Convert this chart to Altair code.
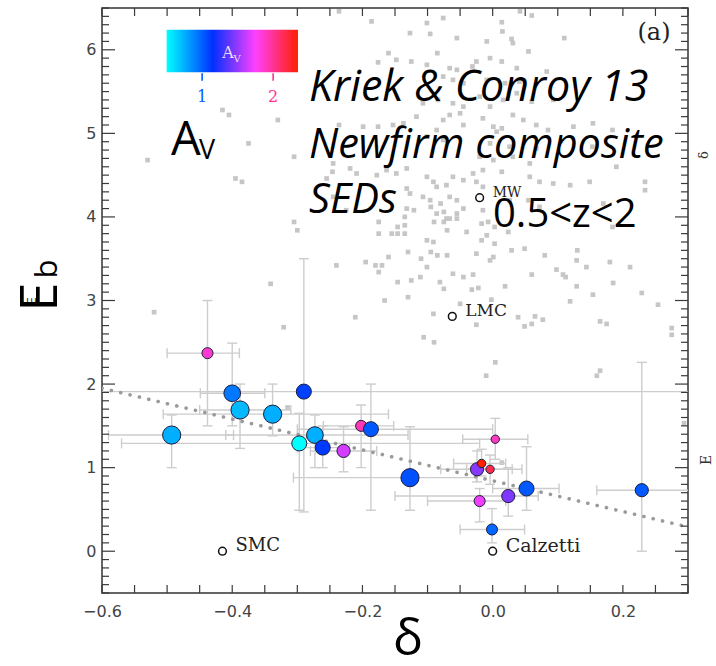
import altair as alt
import pandas as pd
import numpy as np

# ---------------- data ----------------
# composite SEDs (Kriek & Conroy 13)
delta = [-0.493, -0.438, -0.400, -0.388, -0.338, -0.290, -0.273, -0.297, -0.261, -0.229, -0.202,
         -0.187, -0.127, -0.024, -0.017, -0.004, -0.020, -0.001, 0.004, 0.024, 0.052, 0.229]
Eb = [1.39, 2.37, 1.89, 1.69, 1.64, 1.91, 1.39, 1.29, 1.24, 1.20, 1.50,
      1.46, 0.88, 0.98, 1.05, 0.98, 0.60, 0.26, 1.34, 0.66, 0.75, 0.73]
d_lo = [-0.590, -0.500, -0.449, -0.450, -0.506, -0.650, -0.410, -0.570, -0.300, -0.280, -0.260,
        -0.300, -0.306, -0.080, -0.060, -0.040, -0.100, -0.050, -0.046, -0.150, 0.000, 0.160]
d_hi = [-0.398, -0.389, -0.350, -0.310, -0.160, 0.350, -0.130, -0.020, -0.220, -0.178, -0.152,
        0.000, -0.025, 0.030, 0.020, 0.045, 0.020, 0.049, 0.054, 0.070, 0.102, 0.320]
e_lo = [1.00, 1.50, 1.50, 1.23, 1.38, 0.47, 1.00, 0.49, 1.00, 0.95, 1.00,
        0.49, 0.49, 0.83, 0.90, 0.80, 0.35, 0.10, 1.10, 0.42, 0.49, 0.00]
e_hi = [1.63, 3.00, 2.49, 2.00, 2.00, 3.50, 1.63, 1.65, 1.50, 1.49, 1.75,
        2.00, 1.49, 1.20, 1.22, 1.15, 0.75, 0.51, 1.59, 1.00, 1.25, 2.26]
Av = [0.75, 1.86, 0.92, 0.72, 0.75, 1.10, 0.75, 0.50, 1.12, 1.65, 1.92,
      1.02, 1.05, 1.47, 2.35, 2.16, 1.72, 0.98, 1.90, 1.45, 1.02, 1.02]
n_weight = [6, 2, 5, 6, 6, 4, 5, 4, 4, 3, 2,
            4, 6, 3, 1, 1, 2, 2, 1, 3, 4, 3]

# background individual galaxies (grey squares)
bg_delta = [-0.415, -0.405, -0.375, -0.530, -0.395, -0.385, -0.520, -0.330, -0.305, -0.305, -0.300, -0.240,
            -0.341, -0.321, -0.211, -0.236, -0.255, -0.246, -0.245, -0.225, -0.236,
            -0.195, -0.180, -0.170, -0.175, -0.160, -0.166, -0.146, -0.130, -0.125, -0.111, -0.130, -0.110,
            -0.101, -0.095, -0.085, -0.070, -0.101, -0.091, -0.081, -0.075, -0.061, -0.045, -0.091, -0.106, -0.090,
            -0.175, -0.175, -0.155, -0.146, -0.135, -0.146, -0.135, -0.135, -0.121, -0.095, -0.080, -0.075,
            -0.090, -0.075, -0.066, -0.055, -0.055, -0.070, -0.045, -0.040, -0.050,
            -0.015, -0.017, -0.007, -0.009, -0.017, 0.003, 0.003, 0.001, -0.004, -0.025, 0.024, 0.029, 0.049,
            0.080, 0.060, 0.098, 0.108, 0.129, 0.144, 0.180, 0.211, 0.129, 0.154, 0.185, 0.229, 0.254, 0.119,
            0.039, 0.049, 0.060, 0.065, 0.165, 0.175, 0.275, 0.275, 0.019, -0.002, -0.022, -0.032, -0.025, -0.030,
            0.004, -0.010, 0.160, 0.165, 0.294, -0.315, 0.014,
            -0.186, -0.127, -0.096, -0.076, -0.055, -0.101, -0.176, -0.160, -0.148, -0.125, -0.101, -0.066,
            -0.055, -0.076, -0.061, -0.045, -0.084, -0.107, -0.061, -0.045, -0.066, -0.050, -0.076, -0.117,
            -0.137, -0.153, -0.199, -0.176, -0.045, -0.086, -0.101, -0.076,
            -0.245, -0.219, -0.209, -0.178, -0.163, -0.148, -0.132, -0.101, -0.091, -0.086, -0.071, -0.061,
            -0.045, -0.132, -0.127, -0.107, -0.096, -0.066, -0.055, -0.086, -0.071, -0.132,
            0.042, 0.060, 0.014, 0.029, 0.031, 0.110, -0.009, 0.055, 0.037, 0.083, 0.014, -0.004, -0.025,
            -0.009, 0.019, 0.041, -0.020, -0.004, 0.016, 0.037, 0.060, 0.093, 0.031, -0.015, 0.001, 0.006,
            0.014, 0.047, 0.067, 0.085, 0.124, 0.154, -0.004, 0.026, 0.067, -0.020, 0.001, 0.031, 0.057,
            0.190, -0.030, -0.015, 0.014, 0.057, 0.072, 0.093, 0.119, 0.149, 0.234, 0.234, -0.025, -0.015,
            0.026, 0.055, 0.072, 0.170,
            0.015, -0.085, -0.031, 0.184, 0.153, 0.184, 0.130, 0.077, 0.112]
bg_Eb = [5.28, 5.22, 4.88, 4.68, 4.46, 4.42, 2.86, 5.16, 4.72, 3.94, 3.84, 3.42,
         3.20, 2.68, 2.80, 5.10, 4.46, 4.54, 4.24, 4.08, 6.46,
         3.46, 3.42, 3.42, 3.34, 3.52, 3.00, 3.22, 3.04, 3.24, 3.28, 3.58, 3.50,
         3.40, 3.58, 3.54, 3.54, 3.72, 3.70, 3.22, 3.14, 3.32, 3.28, 2.84, 2.56, 2.50,
         3.94, 3.80, 3.80, 3.80, 3.80, 3.88, 3.90, 4.00, 4.08, 4.12, 4.16, 4.06,
         3.94, 3.94, 3.98, 3.98, 4.04, 3.84, 4.10, 3.82, 2.96,
         4.08, 3.92, 3.94, 3.78, 3.72, 3.88, 3.68, 3.52, 3.48, 3.56, 3.82, 3.60, 3.62,
         3.54, 3.31, 3.37, 3.31, 3.48, 3.40, 3.46, 3.40, 3.17, 3.07, 3.21, 3.09, 2.95, 2.99,
         2.80, 2.69, 2.72, 2.81, 2.75, 2.72, 2.67, 2.59, 3.17, 3.01, 3.15, 3.13, 2.71, 3.31,
         2.26, 2.10, 2.10, 2.16, 1.53, 1.72, 1.06,
         6.34, 6.20, 6.19, 6.38, 6.14, 6.32, 5.85, 5.96, 5.88, 5.86, 5.82, 5.78,
         5.76, 5.68, 5.64, 5.60, 5.40, 5.36, 5.36, 5.32, 5.22, 5.24, 5.16, 5.20,
         5.12, 5.10, 5.08, 5.08, 5.10, 5.04, 4.96, 4.92,
         4.64, 4.58, 4.52, 4.50, 4.56, 4.52, 4.58, 4.48, 4.42, 4.36, 4.38, 4.48,
         4.44, 4.34, 4.28, 4.24, 4.20, 4.24, 4.20, 4.04, 3.98, 4.10,
         6.46, 6.41, 6.33, 6.13, 6.08, 6.14, 6.10, 5.98, 5.78, 5.74, 5.86, 5.90, 5.86,
         5.64, 5.60, 5.62, 5.44, 5.32, 5.40, 5.48, 5.38, 5.40, 5.22, 5.18, 5.08, 5.02,
         5.06, 5.16, 5.10, 5.04, 5.08, 5.12, 4.88, 4.84, 4.82, 4.72, 4.68, 4.72, 4.64,
         4.60, 4.52, 4.56, 4.54, 4.48, 4.42, 4.40, 4.38, 4.42, 4.42, 4.32, 4.42, 4.36,
         4.20, 4.20, 4.12, 4.16,
         6.22, 5.96, 5.80, 5.04, 4.84, 3.88, 3.60, 2.77, 3.28]

# reference extinction curves
ref_name = ["SMC", "LMC", "MW", "Calzetti"]
ref_delta = [-0.415, -0.062, -0.020, 0.000]
ref_Eb = [0.00, 2.81, 4.23, 0.00]

# dotted relation
fit_delta = [-0.60, 0.30]
fit_Eb = [1.95, 0.29]

# axes
x_tick_labels = [-0.6, -0.4, -0.2, 0.0, 0.2]
y_tick_labels = [0, 1, 2, 3, 4, 5, 6]
x_minor = [round(v, 2) for v in np.arange(-0.6, 0.3001, 0.05)]
y_major = [float(v) for v in range(0, 7)]
y_minor = [round(v, 1) for v in np.arange(-0.5, 6.5001, 0.1) if abs(v - round(v)) > 1e-6]

# A_V colour bar
av_stops = [0.5, 1.15, 1.75, 2.35]
av_colors = ["#00ffff", "#0030ff", "#ff40ff", "#ff2000"]
cb_av_ticks = [1, 2]
cb_delta_lo, cb_delta_hi = -0.5007, -0.2990
cb_Eb_lo, cb_Eb_hi = 5.73, 6.24

# ---------------- chart ----------------
W, H = 586, 585
xs = alt.Scale(domain=[-0.6, 0.3], nice=False, zero=False)
ys = alt.Scale(domain=[-0.5, 6.5], nice=False, zero=False)
x_axis = alt.Axis(values=x_tick_labels, format=".1f", ticks=False, tickSize=0, domain=False, grid=False,
                  labelFlush=False, labelFont="DejaVu Sans", labelFontSize=16, labelColor="#444",
                  labelPadding=10)
y_axis = alt.Axis(values=y_tick_labels, format="d", ticks=False, tickSize=0, domain=False, grid=False,
                  labelFlush=False, labelFont="DejaVu Sans", labelFontSize=16, labelColor="#444",
                  labelPadding=6)


def X(f):
    return alt.X(f, type="quantitative", scale=xs, axis=x_axis, title=None)


def Y(f):
    return alt.Y(f, type="quantitative", scale=ys, axis=y_axis, title=None)


color_scale = alt.Scale(domain=av_stops, range=av_colors, interpolate="rgb")

df = pd.DataFrame({"delta": delta, "Eb": Eb, "d_lo": d_lo, "d_hi": d_hi, "e_lo": e_lo, "e_hi": e_hi,
                   "Av": Av, "w": n_weight, "idx": list(range(len(delta)))})
df_bg = pd.DataFrame({"delta": bg_delta, "Eb": bg_Eb})
df_ref = pd.DataFrame({"delta": ref_delta, "Eb": ref_Eb, "name": ref_name})
df_fit = pd.DataFrame({"delta": fit_delta, "Eb": fit_Eb})

caps_h = pd.DataFrame({"xv": d_lo + d_hi, "Eb": Eb + Eb})
caps_v = pd.DataFrame({"delta": delta + delta, "yv": e_lo + e_hi})

GRAY_ERR = "#cdcdcd"

bg = alt.Chart(df_bg).mark_square(size=22, color="#c6c6c6", opacity=1, clip=True).encode(
    x=X("delta"), y=Y("Eb"))

err_v = alt.Chart(df).mark_rule(color=GRAY_ERR, strokeWidth=1.4, clip=True).encode(
    x=X("delta"), y=Y("e_lo"), y2="e_hi")
err_h = alt.Chart(df).mark_rule(color=GRAY_ERR, strokeWidth=1.4, clip=True).encode(
    x=X("d_lo"), x2="d_hi", y=Y("Eb"))
cap_h = alt.Chart(caps_h).mark_tick(orient="vertical", size=10, thickness=1.4, color=GRAY_ERR,
                                    opacity=1, clip=True).encode(x=X("xv"), y=Y("Eb"))
cap_v = alt.Chart(caps_v).mark_tick(orient="horizontal", size=10, thickness=1.4, color=GRAY_ERR,
                                    opacity=1, clip=True).encode(x=X("delta"), y=Y("yv"))

fit = alt.Chart(df_fit).mark_line(color="#9a9a9a", strokeWidth=3.6, strokeDash=[0.1, 9.5],
                                  strokeCap="round", clip=True).encode(x=X("delta"), y=Y("Eb"))

ref_pts = alt.Chart(df_ref).mark_point(shape="circle", filled=False, size=60, color="#111",
                                       strokeWidth=1.5, opacity=1).encode(x=X("delta"), y=Y("Eb"))


def ref_label(name, size):
    return alt.Chart(df_ref[df_ref["name"] == name]).mark_text(
        align="left", baseline="middle", dx=13, dy=-5, font="DejaVu Serif", fontSize=size, color="#222"
    ).encode(x=X("delta"), y=Y("Eb"), text="name:N")


pts = alt.Chart(df).mark_circle(opacity=1, fillOpacity=1, stroke="#1d1d3a", strokeWidth=1).encode(
    x=X("delta"), y=Y("Eb"),
    fill=alt.Fill("Av:Q", scale=color_scale, legend=None),
    size=alt.Size("w:Q", scale=alt.Scale(domain=[1, 6], range=[70, 330]), legend=None),
    order=alt.Order("idx:Q"))

# inward ticks (pgplot style)
df_xt = pd.DataFrame({"v": x_minor})
df_ymaj = pd.DataFrame({"v": y_major})
df_ymin = pd.DataFrame({"v": y_minor})
TC = "#3a3a3a"
xt_bot = alt.Chart(df_xt).mark_rule(color=TC, strokeWidth=1.2).encode(x=X("v"), y=alt.value(H), y2=alt.value(H - 8))
xt_top = alt.Chart(df_xt).mark_rule(color=TC, strokeWidth=1.2).encode(x=X("v"), y=alt.value(0), y2=alt.value(8))
yt_lmaj = alt.Chart(df_ymaj).mark_rule(color=TC, strokeWidth=1.2).encode(y=Y("v"), x=alt.value(0), x2=alt.value(13))
yt_rmaj = alt.Chart(df_ymaj).mark_rule(color=TC, strokeWidth=1.2).encode(y=Y("v"), x=alt.value(W), x2=alt.value(W - 13))
yt_lmin = alt.Chart(df_ymin).mark_rule(color=TC, strokeWidth=1.2).encode(y=Y("v"), x=alt.value(0), x2=alt.value(7))
yt_rmin = alt.Chart(df_ymin).mark_rule(color=TC, strokeWidth=1.2).encode(y=Y("v"), x=alt.value(W), x2=alt.value(W - 7))

# colour bar
grad = alt.Gradient(gradient="linear", x1=0, x2=1, y1=0, y2=0,
                    stops=[alt.GradientStop(color=c, offset=(a - av_stops[0]) / (av_stops[-1] - av_stops[0]))
                           for a, c in zip(av_stops, av_colors)])
df_cb = pd.DataFrame({"x0": [cb_delta_lo], "x1": [cb_delta_hi], "y0": [cb_Eb_lo], "y1": [cb_Eb_hi]})
cbar = alt.Chart(df_cb).mark_rect(fill=grad).encode(x=X("x0"), x2="x1", y=Y("y0"), y2="y1")
df_cbt = pd.DataFrame({"Av": cb_av_ticks,
                       "d": [cb_delta_lo + (a - av_stops[0]) / (av_stops[-1] - av_stops[0]) * (cb_delta_hi - cb_delta_lo)
                             for a in cb_av_ticks],
                       "lab": [str(a) for a in cb_av_ticks]})
df_cbt["ya"] = cb_Eb_lo - 0.01
df_cbt["yb"] = cb_Eb_lo - 0.10
df_cbt["yl"] = 5.43
cb_ticks = alt.Chart(df_cbt).mark_rule(strokeWidth=1.6).encode(
    x=X("d"), y=Y("ya"), y2="yb", color=alt.Color("Av:Q", scale=color_scale, legend=None))
cb_labels = alt.Chart(df_cbt).mark_text(font="DejaVu Serif", fontSize=16, baseline="middle").encode(
    x=X("d"), y=Y("yl"), text="lab:N", color=alt.Color("Av:Q", scale=color_scale, legend=None))


def txt(text, x, y, size, font="Open Sans", style="normal", color="#000", angle=0, align="left",
        baseline="alphabetic"):
    return alt.Chart(pd.DataFrame({"t": [text]})).mark_text(
        font=font, fontSize=size, fontStyle=style, color=color, angle=angle, align=align, baseline=baseline
    ).encode(x=alt.value(x), y=alt.value(y), text="t:N")


texts = [
    txt("A", 126, 45, 16, font="DejaVu Serif", color="#eadcff", align="center", baseline="middle"),
    txt("V", 135, 51, 10, font="DejaVu Serif", color="#eadcff", align="center", baseline="middle"),
    txt("(a)", 552, 25, 24, font="DejaVu Serif", color="#222", align="center", baseline="middle"),
    txt("Kriek & Conroy 13", 207, 93, 43, style="italic"),
    txt("Newfirm composite", 207, 150, 41.5, style="italic"),
    txt("SEDs", 207, 205, 41.5, style="italic"),
    txt("0.5<z<2", 391, 219, 40),
    txt("A", 69, 147, 47),
    txt("V", 97, 151, 27),
    txt("E", -66, 293, 12, font="DejaVu Sans", color="#333", angle=270, align="center"),
    txt("E", -45, 289, 52, angle=270, align="center"),
    txt("b", -45, 261, 31, angle=270, align="center"),
    txt("δ", 306, 647, 50, align="center"),
    txt("δ", 606, 147, 13, font="DejaVu Serif", color="#333", angle=270, align="center"),
    txt("E", 609, 452, 14, font="DejaVu Serif", color="#333", angle=270, align="center"),
]

layers = [bg, err_v, err_h, cap_h, cap_v, fit, ref_pts,
          ref_label("SMC", 18), ref_label("LMC", 17), ref_label("MW", 14), ref_label("Calzetti", 19),
          pts, xt_bot, xt_top, yt_lmaj, yt_rmaj, yt_lmin, yt_rmin,
          cbar, cb_ticks, cb_labels] + texts

chart = alt.layer(*layers).properties(
    width=W, height=H,
    autosize=alt.AutoSizeParams(type="none"),
    padding={"left": 102, "top": 8, "right": 28, "bottom": 73},
    background="white",
).configure_view(stroke="#333", strokeWidth=1.5)

chart.save("out.html", embed_options={"renderer": "svg", "actions": False})
